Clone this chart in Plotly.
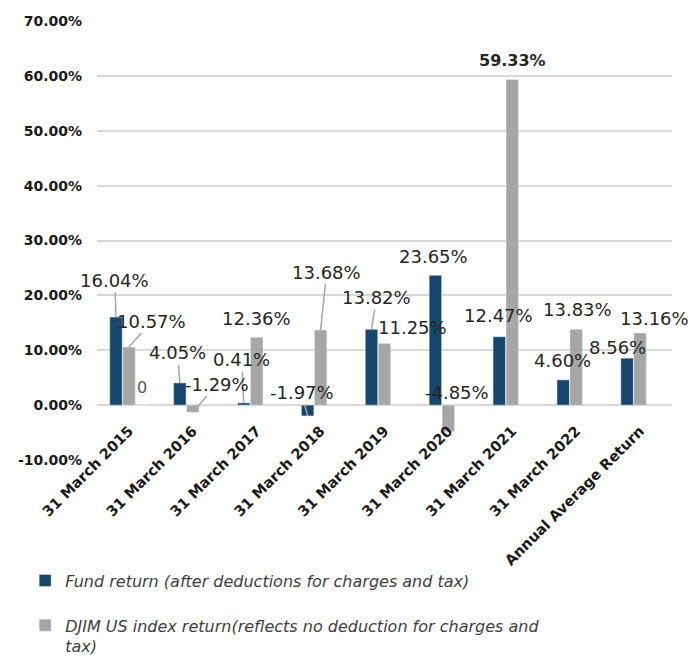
import plotly.graph_objects as go

categories = ["31 March 2015", "31 March 2016", "31 March 2017", "31 March 2018",
              "31 March 2019", "31 March 2020", "31 March 2021", "31 March 2022",
              "Annual Average Return"]
fund = [16.04, 4.05, 0.41, -1.97, 13.82, 23.65, 12.47, 4.60, 8.56]
djim = [10.57, -1.29, 12.36, 13.68, 11.25, -4.85, 59.33, 13.83, 13.16]
third = [0, None, None, None, None, None, None, None, None]
third_labels = ["0", "", "", "", "", "", "", "", ""]
y_ticks = [-10, 0, 10, 20, 30, 40, 50, 60, 70]
y_tick_labels = ["-10.00%", "0.00%", "10.00%", "20.00%", "30.00%", "40.00%",
                 "50.00%", "60.00%", "70.00%"]

fund_name = "Fund return (after deductions for charges and tax)"
djim_name = "DJIM US index return(reflects no deduction for charges and<br>tax)"

NAVY = "#17466d"
GRAY = "#a6a6a6"
FONT = "DejaVu Sans"

# label placement (pixel offsets from bar end, leader line on/off)
fund_pos = [(-1, -37, True), (-2, -30, True), (-2, -43, True), (-6, -23, True),
            (5, -32, True), (-2, -19, False), (-1, -21, False), (-1, -19, False),
            (-10, -11, False)]
djim_pos = [(23, -26, True), (24, -28, True), (0, -19, False), (6, -58, True),
            (28, -16, False), (9, -39, False), (0, -19, False), (1, -20, False),
            (14, -14, False)]

fig = go.Figure()
fig.add_trace(go.Bar(x=categories, y=fund, name=fund_name, marker_color=NAVY,
                     legendgroup="a"))
fig.add_trace(go.Bar(x=categories, y=djim, name=djim_name, marker_color=GRAY,
                     legendgroup="b"))
fig.add_trace(go.Bar(x=categories, y=third, name="", marker_color=GRAY,
                     showlegend=False))

annotations = []

def add_labels(values, pos, shift, bold_idx=None):
    for i, (v, (dx, dy, leader)) in enumerate(zip(values, pos)):
        bold = (bold_idx is not None and i == bold_idx)
        annotations.append(dict(
            x=categories[i], y=v, xref="x", yref="y",
            text=f"<b>{v:.2f}%</b>" if bold else f"{v:.2f}%",
            showarrow=True, ax=dx, ay=dy, arrowhead=0, arrowwidth=1.5,
            arrowcolor=GRAY if leader else "rgba(0,0,0,0)",
            xshift=shift, standoff=0,
            font=dict(family=FONT, size=16 if bold else 18, color="#262626"),
        ))

add_labels(fund, fund_pos, -13)
add_labels(djim, djim_pos, 0, bold_idx=6)

for i, (v, t) in enumerate(zip(third, third_labels)):
    if v is not None and t:
        annotations.append(dict(
            x=categories[i], y=v, xref="x", yref="y", text=t,
            showarrow=True, ax=0, ay=-18, arrowcolor="rgba(0,0,0,0)",
            xshift=13, font=dict(family=FONT, size=16, color="#595959")))

fig.update_layout(
    width=688, height=649,
    margin=dict(l=89, r=24, t=13, b=197, autoexpand=False),
    paper_bgcolor="white", plot_bgcolor="white",
    barmode="group", bargap=0.39, bargroupgap=0.04,
    font=dict(family=FONT, color="#262626"),
    annotations=annotations,
    showlegend=True,
    legend=dict(x=-0.125, y=-0.236, xanchor="left", yanchor="top",
                orientation="v", valign="top", traceorder="grouped",
                tracegroupgap=21,
                font=dict(family=FONT, size=16, color="#404040", style="italic"),
                bgcolor="rgba(0,0,0,0)"),
    xaxis=dict(type="category", range=[-0.5, 8.5], tickangle=-45,
               anchor="free", position=0.094,
               showgrid=False, showline=False, ticks="", automargin=False,
               tickfont=dict(family=FONT, size=14.5, color="#1a1a1a", weight="bold")),
    yaxis=dict(range=[-10, 70], tickvals=y_ticks, ticktext=y_tick_labels,
               showgrid=True, gridcolor="#d9d9d9", gridwidth=1.5,
               zeroline=True, zerolinecolor="#d9d9d9", zerolinewidth=1.5,
               showline=False, ticks="", ticklabelstandoff=14, automargin=False,
               tickfont=dict(family=FONT, size=14, color="#1a1a1a", weight="bold")),
)

fig.write_html("out.html")
